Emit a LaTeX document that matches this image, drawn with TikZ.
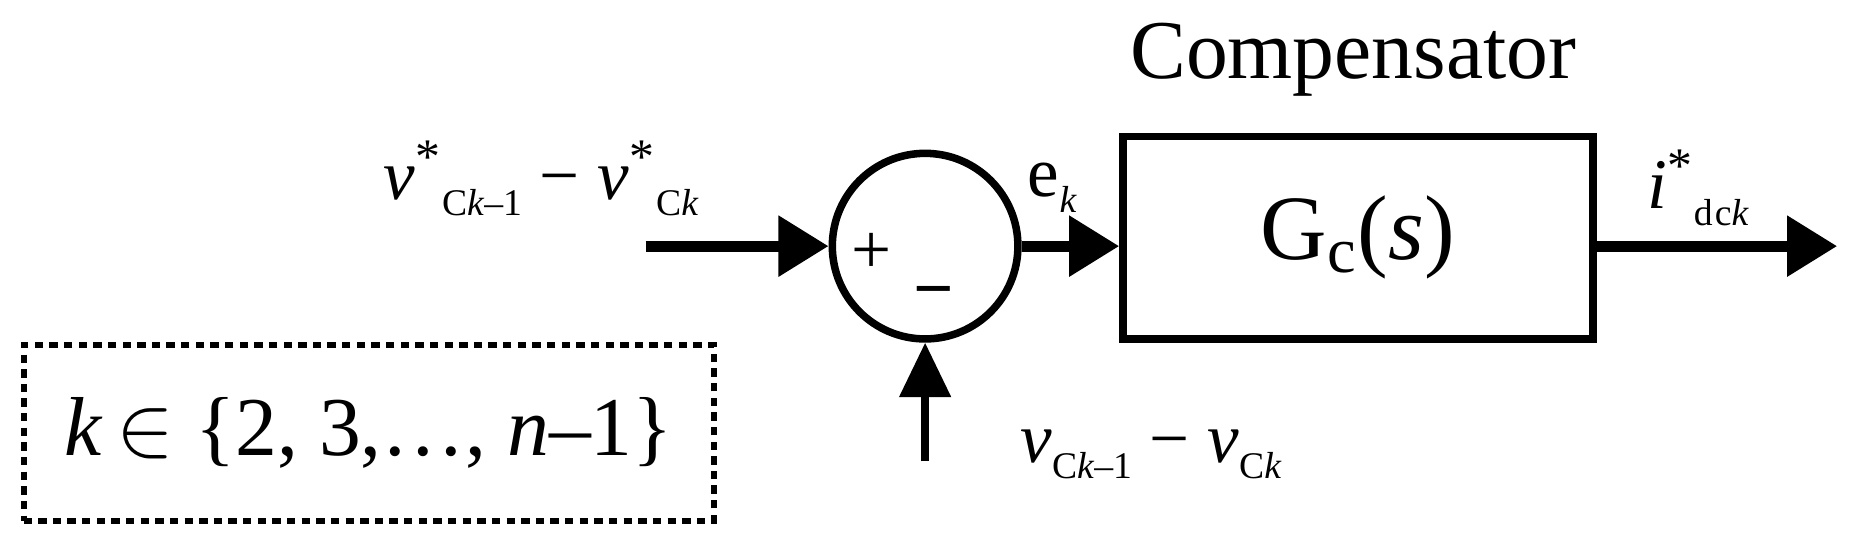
\documentclass[tikz,border=0pt]{standalone}
\usepackage{fontspec}
\setmainfont{Liberation Serif}
\usetikzlibrary{arrows.meta}
\begin{document}
\begin{tikzpicture}[x=0.01cm,y=-0.01cm,
  sig/.style={line width=2.6pt,-{Triangle[length=12pt,width=14pt]}},
  lbl/.style={font=\fontsize{17}{20}\selectfont,inner sep=0pt}]
\useasboundingbox (0,0) rectangle (1560,452);
\node[draw,line width=1.8pt,circle,minimum size=1.56cm,inner sep=0pt] (sum) at (778,207) {};
\node[draw,line width=1.8pt,minimum width=3.95cm,minimum height=1.7cm,inner sep=0pt] (gc) at (1142,200) {\fontsize{22}{26}\selectfont G\textsubscript{c}(\textit{s})};
\node[font=\fontsize{20}{24}\selectfont,inner sep=0pt] (title) at (1138,50) {Compensator};
\coordinate (in) at (543,207);
\coordinate (out) at (1545,207);
\coordinate (bot) at (778,388);
\draw[sig] (in) -- (sum.west);
\draw[sig] (sum.east) -- (sum.east -| gc.west);
\draw[sig] (sum.east -| gc.east) -- (out);
\draw[line width=1.8pt,-{Triangle[length=13pt,width=12pt]}] (bot) -- (sum.south);
\node[lbl] (plus) at (733,213) {+};
\node[lbl] (minus) at (785,252) {\textbf{−}};
\node[lbl] (vin) at (455,150) {\textit{v}\textsuperscript{*}\raisebox{-0.5ex}{\small C\textit{k}–1} − \textit{v}\textsuperscript{*}\raisebox{-0.5ex}{\small C\textit{k}}};
\node[lbl] (ek) at (885,158) {e\raisebox{-0.5ex}{\small\textit{k}}};
\node[lbl] (iout) at (1428,158) {\textit{i}\textsuperscript{*}\raisebox{-0.5ex}{\small d\hspace{0.5pt}c\textit{k}}};
\node[lbl] (vbot) at (968,382) {\textit{v}\raisebox{-0.5ex}{\small C\textit{k}–1} − \textit{v}\raisebox{-0.5ex}{\small C\textit{k}}};
\node[draw,line width=1.4pt,dash pattern=on 2pt off 1.5pt,minimum width=5.8cm,minimum height=1.48cm,inner sep=0pt] (kset) at (310,364) {\fontsize{20}{24}\selectfont\textit{k}\,$\in$ \{2, 3,…, \textit{n}–1\}};
\end{tikzpicture}
\end{document}
